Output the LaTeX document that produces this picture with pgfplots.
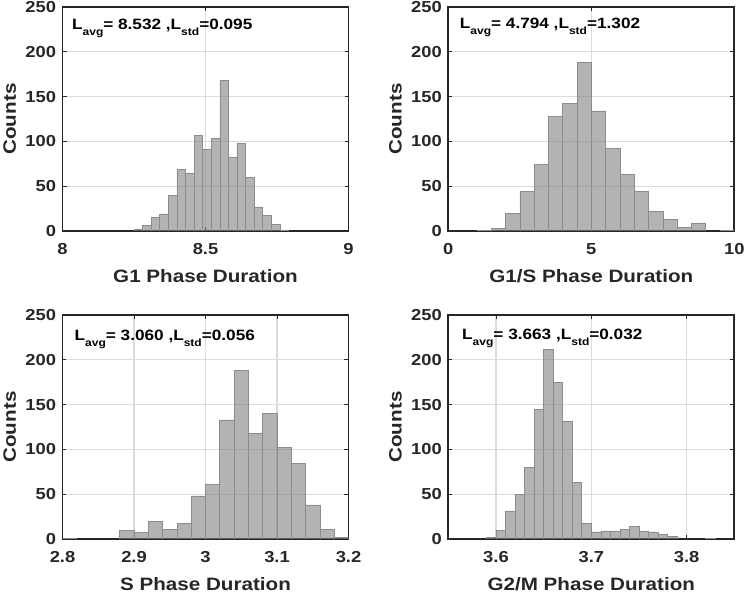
\documentclass[border=0pt]{standalone}
\usepackage{pgfplots}
\pgfplotsset{compat=1.18}
\usepackage{fontspec}
\setmainfont{Liberation Sans}[FakeStretch=1.15]
\definecolor{axc}{RGB}{38,38,38}
\definecolor{barf}{RGB}{128,128,128}
\definecolor{bare}{RGB}{140,140,140}
\pgfplotsset{
 hist/.style={
  scale only axis, width=286bp, height=224bp,
  ymin=0, ymax=250, ytick={0,50,...,250},
  axis line style={axc, line width=1.8bp},
  grid=major, grid style={black!14, line width=1.2bp},
  tick align=inside, tick pos=both,
  major tick length=4bp, every tick/.style={axc, line width=0.9bp},
  ticklabel style={font=\fontsize{16}{18}\selectfont\bfseries, text=axc},
  /pgf/number format/assume math mode=true,
  xticklabel style={yshift=-9bp}, yticklabel style={xshift=-3bp},
  xlabel style={font=\fontsize{18}{21}\selectfont\bfseries, text=axc, at={(axis description cs:0.5,-0.228)}, anchor=base},
  ylabel style={font=\fontsize{18}{21}\selectfont\bfseries, text=axc, at={(axis description cs:-0.185,0.5)}, anchor=center},
 },
 hb/.style={ybar interval, fill=barf, fill opacity=0.6, draw=bare, line width=0.6bp},
}
\newcommand{\sub}[1]{\raisebox{-6.5bp}{\fontsize{10.5}{12}\selectfont #1}}
\newcommand{\ann}[4]{\node[anchor=base west, inner sep=0pt, font=\fontsize{15}{17}\selectfont\bfseries, text=black] at (rel axis cs:#1,#2) {L\sub{avg}= #3 ,L\sub{std}=#4};}
\begin{document}
\begin{tikzpicture}
\useasboundingbox (0bp,0bp) rectangle (747bp,593bp);
% Panel 1
\begin{axis}[hist, at={(62.5bp,362bp)}, anchor=south west, xmin=8, xmax=9, xtick={8,8.5,9}, xlabel={G1 Phase Duration}, ylabel={Counts}]
\addplot[hb] coordinates {(8.25,2) (8.28,6) (8.31,15) (8.34,19) (8.37,40) (8.40,69) (8.43,64) (8.46,107) (8.49,91) (8.52,104) (8.55,168) (8.58,82) (8.61,98) (8.64,60) (8.67,26) (8.70,17) (8.73,7) (8.76,1) (8.79,0)};
\ann{0.033}{0.90}{8.532}{0.095}
\end{axis}
% Panel 2
\begin{axis}[hist, at={(448.3bp,362bp)}, anchor=south west, xmin=0, xmax=10, xtick={0,5,10}, xlabel={G1/S Phase Duration}, ylabel={Counts}]
\addplot[hb] coordinates {(1.0,1) (1.5,3) (2.0,20) (2.5,44) (3.0,74) (3.5,128) (4.0,142) (4.5,188) (5.0,134) (5.5,92) (6.0,63) (6.5,44) (7.0,22) (7.5,13) (8.0,4) (8.5,9) (9.0,0)};
\addplot[hb] coordinates {(9.5,1) (10.0,0)};
\ann{0.04}{0.905}{4.794}{1.302}
\end{axis}
% Panel 3
\begin{axis}[hist, at={(62.5bp,54bp)}, anchor=south west, xmin=2.8, xmax=3.2, xtick={2.8,2.9,3,3.1,3.2}, xlabel={S Phase Duration}, ylabel={Counts}]
\addplot[hb] coordinates {(2.80,1) (2.82,0)};
\addplot[hb] coordinates {(2.88,10) (2.90,7) (2.92,20) (2.94,11) (2.96,17) (2.98,48) (3.00,61) (3.02,133) (3.04,188) (3.06,118) (3.08,140) (3.10,102) (3.12,84) (3.14,38) (3.16,11) (3.18,2) (3.20,0)};
\ann{0.042}{0.887}{3.060}{0.056}
\end{axis}
% Panel 4
\begin{axis}[hist, at={(448.3bp,54bp)}, anchor=south west, xmin=3.55, xmax=3.85, xtick={3.6,3.7,3.8}, xlabel={G2/M Phase Duration}, ylabel={Counts}]
\addplot[hb] coordinates {(3.59,2) (3.60,10) (3.61,31) (3.62,50) (3.63,80) (3.64,145) (3.65,212) (3.66,175) (3.67,131) (3.68,63) (3.69,17) (3.70,8) (3.71,9) (3.72,9) (3.73,11) (3.74,14) (3.75,9) (3.76,8) (3.77,5) (3.78,3) (3.79,0)};
\addplot[hb] coordinates {(3.82,1) (3.83,0)};
\ann{0.048}{0.892}{3.663}{0.032}
\end{axis}
\end{tikzpicture}
\end{document}
